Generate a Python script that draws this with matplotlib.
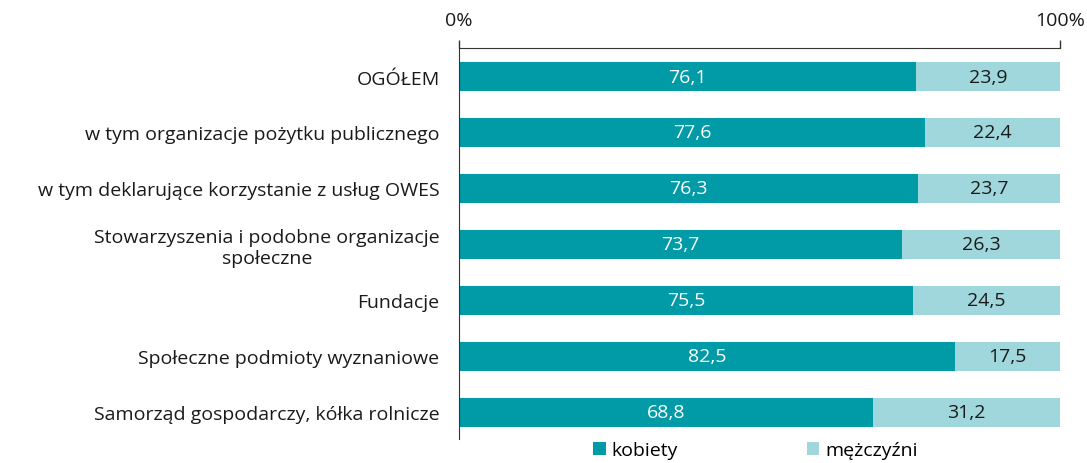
import matplotlib.pyplot as plt
import numpy as np

categories = [
    "OGÓŁEM",
    "w tym organizacje pożytku publicznego",
    "w tym deklarujące korzystanie z usług OWES",
    "Stowarzyszenia i podobne organizacje\nspołeczne",
    "Fundacje",
    "Społeczne podmioty wyznaniowe",
    "Samorząd gospodarczy, kółka rolnicze",
]
kobiety = [76.1, 77.6, 76.3, 73.7, 75.5, 82.5, 68.8]
mezczyzni = [23.9, 22.4, 23.7, 26.3, 24.5, 17.5, 31.2]

dark = "#009ba6"
light = "#9fd7dc"
fs = 14

plt.rcParams['font.family'] = ['Open Sans', 'DejaVu Sans']

fig = plt.figure(figsize=(10.87, 4.64), dpi=100)
ax = fig.add_axes([0.4223, 0.0517, 0.5529, 0.8427])

y = np.arange(len(categories))
h = 0.52
b1 = ax.barh(y, kobiety, height=h, color=dark, label="kobiety")
b2 = ax.barh(y, mezczyzni, left=kobiety, height=h, color=light, label="mężczyźni")

for i in range(len(categories)):
    ax.text(kobiety[i] / 2, y[i], f"{kobiety[i]:.1f}".replace(".", ","),
            ha="center", va="center", color="white", fontsize=fs)
    ax.text(kobiety[i] + mezczyzni[i] / 2, y[i], f"{mezczyzni[i]:.1f}".replace(".", ","),
            ha="center", va="center", color="#1a1a1a", fontsize=fs)

ax.set_xlim(0, 100)
ax.set_ylim(6.48, -0.51)
ax.set_yticks(y)
ax.set_yticklabels(categories, fontsize=fs, ha="right", multialignment="center",
                   color="#1a1a1a")
ax.tick_params(axis="y", length=0, pad=14)

ax.xaxis.tick_top()
ax.set_xticks([0, 100])
ax.set_xticklabels(["0%", "100%"], fontsize=fs, color="#1a1a1a")
ax.tick_params(axis="x", length=6, width=1, pad=8, color="#333333")

for s in ["right", "bottom"]:
    ax.spines[s].set_visible(False)
ax.spines["top"].set_color("#333333")
ax.spines["left"].set_color("#333333")

fig.legend(handles=[b1, b2], loc="lower center", bbox_to_anchor=(0.695, -0.03),
           ncol=2, frameon=False, fontsize=fs, handlelength=0.65, handleheight=0.65,
           handletextpad=0.3, columnspacing=6.6)

fig.savefig("out.png", dpi=100)
